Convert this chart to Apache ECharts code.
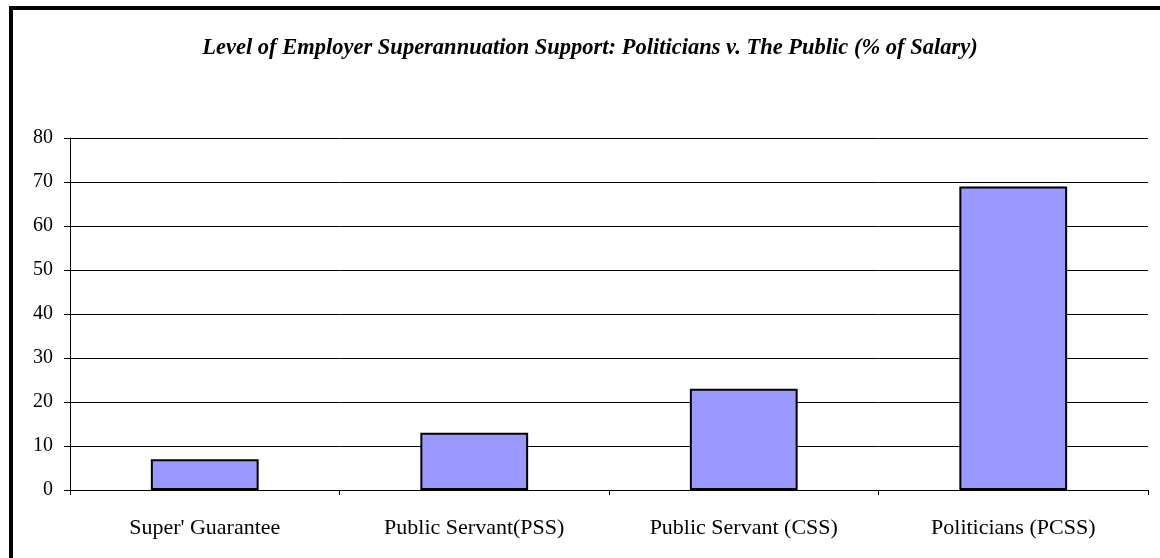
<!DOCTYPE html>
<html><head><meta charset="utf-8">
<script src="https://cdn.jsdelivr.net/npm/echarts@6/dist/echarts.min.js"></script>
<style>html,body{margin:0;padding:0;background:#fff;}#c{width:1160px;height:558px;}</style>
</head><body><div id="c"></div>
<script>
const titleText = "Level of Employer Superannuation Support: Politicians v. The Public (% of Salary)";
const categories = ["Super' Guarantee", "Public Servant(PSS)", "Public Servant (CSS)", "Politicians (PCSS)"];
const values = [7, 13, 23, 69];
const yMin = 0, yMax = 80, yStep = 10;

const chart = echarts.init(document.getElementById('c'));
const serif = "'Liberation Serif', 'Times New Roman', serif";
chart.setOption({
  animation: false,
  backgroundColor: '#fff',
  title: {
    text: titleText, left: 585, textAlign: 'center', top: 32,
    textStyle: {fontFamily: serif, fontStyle: 'italic', fontWeight: 'bold', fontSize: 22.5, color: '#000'}
  },
  graphic: [{
    type: 'rect', shape: {x: 11, y: 8, width: 1160, height: 600},
    style: {fill: 'none', stroke: '#000', lineWidth: 4}, silent: true
  }],
  grid: {left: 70, right: 12, top: 138, bottom: 68},
  xAxis: {
    type: 'category', data: categories,
    axisLine: {lineStyle: {color: '#000', width: 1}},
    axisTick: {show: true, length: 5, lineStyle: {color: '#000'}},
    axisLabel: {fontFamily: serif, fontSize: 22, color: '#000', margin: 27}
  },
  yAxis: {
    type: 'value', min: yMin, max: yMax, interval: yStep,
    axisLine: {show: true, lineStyle: {color: '#000', width: 1}},
    axisTick: {show: true, length: 6, lineStyle: {color: '#000'}},
    splitLine: {lineStyle: {color: '#000', width: 1}},
    axisLabel: {fontFamily: serif, fontSize: 20, color: '#000', margin: 17}
  },
  series: [{
    type: 'bar', data: values, barCategoryGap: '60%',
    itemStyle: {color: '#9999FF', borderColor: '#000', borderWidth: 2}
  }]
});
</script></body></html>
